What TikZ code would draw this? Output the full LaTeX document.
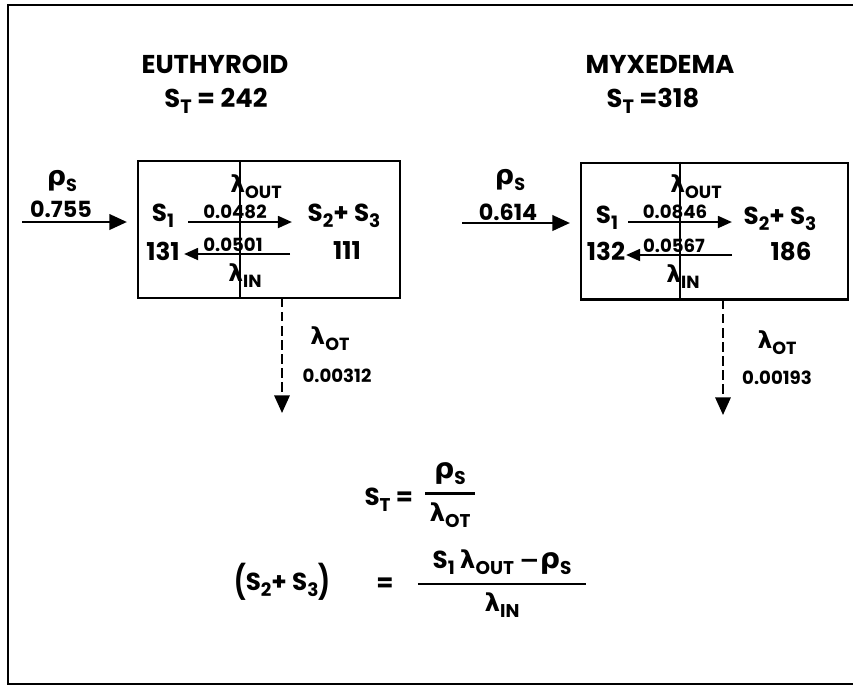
\documentclass[tikz,border=0pt]{standalone}
\usepackage{fontspec}
\usepackage{amsmath}
\usepackage{graphicx}
\setmainfont{Poppins}
\newfontfamily\grk{DejaVu Sans}
\usetikzlibrary{arrows.meta}

\newcommand{\lsub}[1]{\raisebox{-0.45ex}{\scalebox{0.75}{#1}}}
\newcommand{\lam}[1]{{\grk λ}\lsub{#1}}
\newcommand{\rhos}{\scalebox{1.15}{\grk ρ}\lsub{S}}
\newcommand{\tallp}[1]{\raisebox{-0.15em}{\scalebox{1}[1.35]{#1}}}

\begin{document}
\begin{tikzpicture}[x=0.03cm,y=-0.03cm,line width=2pt,
    >={Triangle[length=15pt,width=13pt]}]
  \tikzstyle{comp}=[draw,minimum height=4.1cm,inner sep=0pt]
  \tikzstyle{head}=[font=\fontsize{22}{25}\selectfont\bfseries]
  \tikzstyle{pool}=[font=\fontsize{21}{24}\selectfont\bfseries]
  \tikzstyle{flow}=[font=\fontsize{20}{23}\selectfont\bfseries]
  \tikzstyle{feed}=[font=\fontsize{19}{22}\selectfont\bfseries]
  \tikzstyle{rate}=[font=\fontsize{15.5}{18}\selectfont\bfseries]
  \tikzstyle{inner}=[->,line width=2.2pt,>={Triangle[length=12pt,width=10pt]}]
  \tikzstyle{leak}=[->,dash pattern=on 8pt off 4pt]
  \useasboundingbox (0,0) rectangle (853,686);
  \draw (853,5) -- (8,5) -- (8,684) -- (853,684);

  % euthyroid
  \node[head] (EUname) at (215,64) {EUTHYROID};
  \node[head] (EUST) at (216,101) {S\lsub{T} = 242};
  \node[comp,minimum width=7.86cm] (EU) at (269,229.5) {};
  \coordinate (EUwall) at (240,229);
  \draw (EUwall |- EU.north) -- (EUwall |- EU.south);

  \node[flow] (EUrho) at (62,181) {\rhos};
  \node[feed] (EUrate) at (61,209) {0.755};
  \coordinate (EUsrc) at (22,222);
  \coordinate (EUhit) at (127,222);
  \draw[->,line width=2.5pt] (EUsrc) -- (EUhit);

  \node[pool] (EUs1) at (163,216) {S\lsub{1}};
  \node[pool] (EUs23) at (344,216) {S\lsub{2}+ S\lsub{3}};
  \node[pool] (EUn1) at (163,251) {131};
  \node[pool] (EUn23) at (347,251) {111};
  \node[flow] (EUout) at (256,187) {\lam{OUT}};
  \node[flow] (EUin) at (245,276) {\lam{IN}};
  \node[rate] (EUkout) at (235,212) {0.0482};
  \node[rate] (EUkin) at (233,245) {0.0501};
  \coordinate (EUa1) at (188,222);
  \coordinate (EUa2) at (292,222);
  \coordinate (EUb1) at (290,254);
  \coordinate (EUb2) at (184,254);
  \draw[inner] (EUa1) -- (EUa2);
  \draw[inner] (EUb1) -- (EUb2);

  \coordinate (EUtop) at (282,298);
  \coordinate (EUsink) at (282,413);
  \draw[leak] (EUtop) -- (EUsink);
  \node[flow] (EUot) at (330,339) {\lam{OT}};
  \node[rate] (EUkot) at (337,376) {0.00312};

  % myxedema
  \node[head] (MYname) at (660,64) {MYXEDEMA};
  \node[head] (MYST) at (653,101) {S\lsub{T} =318};
  \node[comp,minimum width=8.01cm] (MY) at (714.5,231) {};
  \coordinate (MYwall) at (680,231);
  \draw (MYwall |- MY.north) -- (MYwall |- MY.south);

  \node[flow] (MYrho) at (510,180) {\rhos};
  \node[feed] (MYrate) at (508,212) {0.614};
  \coordinate (MYsrc) at (462,223);
  \coordinate (MYhit) at (570,223);
  \draw[->,line width=2.5pt] (MYsrc) -- (MYhit);

  \node[pool] (MYs1) at (607,218) {S\lsub{1}};
  \node[pool] (MYs23) at (780,219) {S\lsub{2}+ S\lsub{3}};
  \node[pool] (MYn1) at (606,251) {132};
  \node[pool] (MYn23) at (791,251) {186};
  \node[flow] (MYout) at (696,187) {\lam{OUT}};
  \node[flow] (MYin) at (683,277) {\lam{IN}};
  \node[rate] (MYkout) at (675,212) {0.0846};
  \node[rate] (MYkin) at (674,246) {0.0567};
  \coordinate (MYa1) at (628,222);
  \coordinate (MYa2) at (732,222);
  \coordinate (MYb1) at (732,255);
  \coordinate (MYb2) at (626,255);
  \draw[inner] (MYa1) -- (MYa2);
  \draw[inner] (MYb1) -- (MYb2);

  \coordinate (MYtop) at (723,300);
  \coordinate (MYsink) at (723,415);
  \draw[leak] (MYtop) -- (MYsink);
  \node[flow] (MYot) at (777,343) {\lam{OT}};
  \node[rate] (MYkot) at (777,378) {0.00193};

  % formulas
  \node[pool,anchor=east] (EQst) at (418,500) {S\lsub{T} =};
  \node[pool] (EQrat) at (450,495)
    {$\genfrac{}{}{2.2pt}{0}{\mbox{\rhos}}{\mbox{\,\lam{OT}\,}}$};
  \node[pool,anchor=west] (EQsum) at (229,582)
    {\tallp{(}S\lsub{2}+ S\lsub{3}\tallp{)}};
  \node[pool] (EQeq) at (385,585) {=};
  \node[pool] (EQfrac) at (502,584)
    {$\genfrac{}{}{2.2pt}{0}{\mbox{\hspace{0.6em}S\lsub{1} \lam{OUT} {\grk −}\rhos\hspace{0.6em}}}{\mbox{\lam{IN}}}$};
\end{tikzpicture}
\end{document}
